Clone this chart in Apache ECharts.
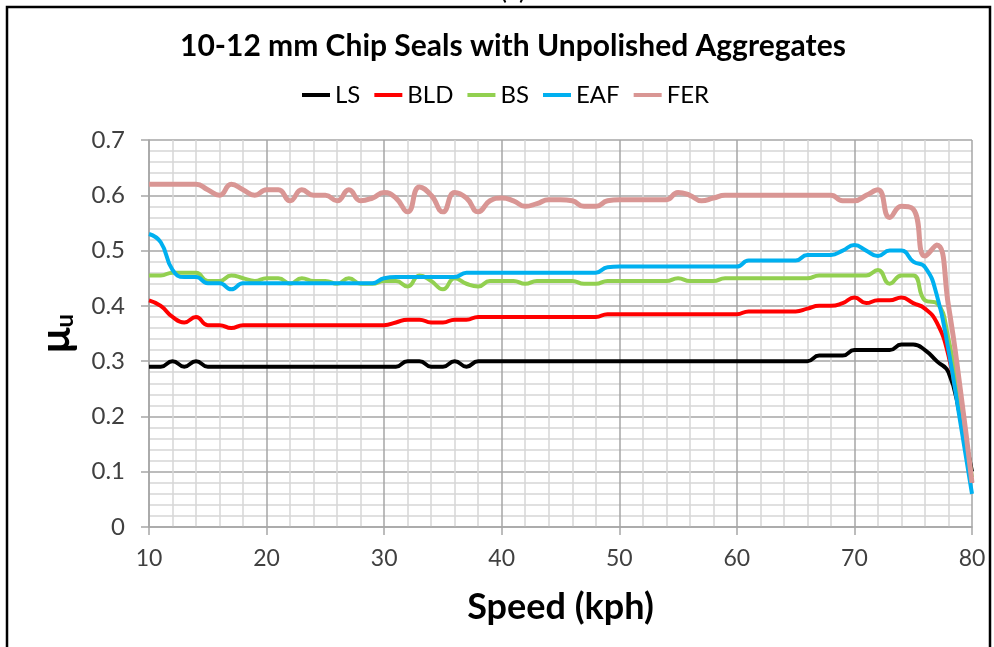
<!DOCTYPE html>
<html>
<head>
<meta charset="utf-8">
<script src="https://cdn.jsdelivr.net/npm/echarts@6/dist/echarts.min.js"></script>
<style>
  html, body { margin: 0; padding: 0; background: #fff; }
  #chart { width: 994px; height: 647px; }
</style>
</head>
<body>
<div id="chart"></div>
<script>
// 速度 10..80 kph，每 1 kph 一个点
var speeds = [];
for (var s = 10; s <= 80; s++) speeds.push(s);

var ls = [0.29, 0.29, 0.30, 0.29, 0.30, 0.29, 0.29, 0.29, 0.29, 0.29,
    0.29, 0.29, 0.29, 0.29, 0.29, 0.29, 0.29, 0.29, 0.29, 0.29,
    0.29, 0.29, 0.30, 0.30, 0.29, 0.29, 0.30, 0.29, 0.30, 0.30,
    0.30, 0.30, 0.30, 0.30, 0.30, 0.30, 0.30, 0.30, 0.30, 0.30,
    0.30, 0.30, 0.30, 0.30, 0.30, 0.30, 0.30, 0.30, 0.30, 0.30,
    0.30, 0.30, 0.30, 0.30, 0.30, 0.30, 0.30, 0.31, 0.31, 0.31,
    0.32, 0.32, 0.32, 0.32, 0.33, 0.33, 0.32, 0.30, 0.28, 0.20,
    0.10];
var bld = [0.41, 0.40, 0.38, 0.37, 0.38, 0.365, 0.365, 0.36, 0.365, 0.365,
    0.365, 0.365, 0.365, 0.365, 0.365, 0.365, 0.365, 0.365, 0.365, 0.365,
    0.365, 0.37, 0.375, 0.375, 0.37, 0.37, 0.375, 0.375, 0.38, 0.38,
    0.38, 0.38, 0.38, 0.38, 0.38, 0.38, 0.38, 0.38, 0.38, 0.385,
    0.385, 0.385, 0.385, 0.385, 0.385, 0.385, 0.385, 0.385, 0.385, 0.385,
    0.385, 0.39, 0.39, 0.39, 0.39, 0.39, 0.395, 0.40, 0.40, 0.405,
    0.415, 0.405, 0.41, 0.41, 0.415, 0.405, 0.395, 0.37, 0.31, 0.20,
    0.08];
var bs = [0.455, 0.455, 0.46, 0.46, 0.46, 0.445, 0.445, 0.455, 0.45, 0.445,
    0.45, 0.45, 0.44, 0.45, 0.445, 0.445, 0.44, 0.45, 0.44, 0.44,
    0.445, 0.445, 0.435, 0.455, 0.445, 0.43, 0.45, 0.44, 0.435, 0.445,
    0.445, 0.445, 0.44, 0.445, 0.445, 0.445, 0.445, 0.44, 0.44, 0.445,
    0.445, 0.445, 0.445, 0.445, 0.445, 0.45, 0.445, 0.445, 0.445, 0.45,
    0.45, 0.45, 0.45, 0.45, 0.45, 0.45, 0.45, 0.455, 0.455, 0.455,
    0.455, 0.455, 0.465, 0.44, 0.455, 0.455, 0.41, 0.405, 0.34, 0.22,
    0.09];
var eaf = [0.53, 0.515, 0.465, 0.452, 0.452, 0.441, 0.441, 0.43, 0.441, 0.441,
    0.441, 0.441, 0.441, 0.441, 0.441, 0.441, 0.441, 0.441, 0.441, 0.441,
    0.45, 0.452, 0.452, 0.452, 0.452, 0.452, 0.452, 0.46, 0.46, 0.46,
    0.46, 0.46, 0.46, 0.46, 0.46, 0.46, 0.46, 0.46, 0.46, 0.47,
    0.471, 0.471, 0.471, 0.471, 0.471, 0.471, 0.471, 0.471, 0.471, 0.471,
    0.471, 0.482, 0.482, 0.482, 0.482, 0.482, 0.492, 0.492, 0.492, 0.50,
    0.51, 0.50, 0.49, 0.50, 0.50, 0.48, 0.47, 0.42, 0.32, 0.19,
    0.06];
var fer = [0.62, 0.62, 0.62, 0.62, 0.62, 0.61, 0.60, 0.62, 0.61, 0.60,
    0.61, 0.61, 0.59, 0.61, 0.60, 0.60, 0.59, 0.61, 0.59, 0.595,
    0.605, 0.595, 0.57, 0.615, 0.60, 0.57, 0.605, 0.595, 0.57, 0.59,
    0.595, 0.59, 0.58, 0.585, 0.592, 0.592, 0.59, 0.58, 0.58, 0.59,
    0.592, 0.592, 0.592, 0.592, 0.592, 0.605, 0.60, 0.59, 0.595, 0.60,
    0.60, 0.60, 0.60, 0.60, 0.60, 0.60, 0.60, 0.60, 0.60, 0.59,
    0.59, 0.60, 0.61, 0.56, 0.58, 0.575, 0.49, 0.51, 0.40, 0.25,
    0.08];

var names = ['LS', 'BLD', 'BS', 'EAF', 'FER'];
var colors = ['#000000', '#ff0000', '#92d050', '#00b0f0', '#d99694'];
var values = [ls, bld, bs, eaf, fer];

var xTicks = [10, 20, 30, 40, 50, 60, 70, 80];
var yTicks = [0, 0.1, 0.2, 0.3, 0.4, 0.5, 0.6, 0.7];

var font = 'Lato, "Open Sans", sans-serif';

function pairs(arr) {
    return speeds.map(function (x, i) { return [x, arr[i]]; });
}

var chart = echarts.init(document.getElementById('chart'));

var series = names.map(function (n, i) {
    return {
        name: n,
        type: 'line',
        smooth: true,
        showSymbol: false,
        data: pairs(values[i]),
        lineStyle: { color: colors[i], width: i === 4 ? 5 : 4 },
        itemStyle: { color: colors[i] }
    };
});

var option = {
    backgroundColor: '#fff',
    animation: false,
    title: {
        text: '10-12 mm Chip Seals with Unpolished Aggregates',
        left: 175,
        top: 26,
        textStyle: { fontFamily: font, fontSize: 30, fontWeight: 'bold', color: '#000' }
    },
    legend: {
        data: names,
        left: 297,
        top: 78,
        icon: 'rect',
        itemWidth: 28,
        itemHeight: 4,
        itemGap: 14,
        textStyle: { fontFamily: font, fontSize: 24, color: '#000' }
    },
    grid: { left: 149, right: 22, top: 140, bottom: 120 },
    xAxis: {
        type: 'value',
        min: xTicks[0],
        max: xTicks[xTicks.length - 1],
        interval: 10,
        name: 'Speed (kph)',
        nameLocation: 'middle',
        nameGap: 62,
        nameTextStyle: { fontFamily: font, fontSize: 36, fontWeight: 'bold', color: '#000' },
        axisLine: { show: true, lineStyle: { color: '#a6a6a6', width: 1.5 } },
        axisTick: { show: true, length: 8, lineStyle: { color: '#a6a6a6', width: 1.5 } },
        axisLabel: { fontFamily: font, fontSize: 23, color: '#404040', margin: 20 },
        splitLine: { show: true, lineStyle: { color: '#a6a6a6', width: 1.5 } },
        minorTick: { show: false, splitNumber: 5 },
        minorSplitLine: { show: true, lineStyle: { color: '#d6d6d6', width: 1.5 } }
    },
    yAxis: {
        type: 'value',
        min: yTicks[0],
        max: yTicks[yTicks.length - 1],
        interval: 0.1,
        name: '{m|μ}{u|u}',
        nameLocation: 'middle',
        nameRotate: 90,
        nameGap: 72,
        nameTextStyle: {
            fontFamily: font,
            color: '#000',
            rich: {
                m: { fontFamily: font, fontSize: 42, fontWeight: 'bold', color: '#000' },
                u: { fontFamily: font, fontSize: 24, fontWeight: 'bold', color: '#000', verticalAlign: 'bottom', padding: [14, 0, 0, 0] }
            }
        },
        axisLine: { show: true, lineStyle: { color: '#a6a6a6', width: 1.5 } },
        axisTick: { show: true, length: 8, lineStyle: { color: '#a6a6a6', width: 1.5 } },
        axisLabel: {
            fontFamily: font, fontSize: 24, color: '#404040', margin: 24,
            formatter: function (v) { return String(Math.round(v * 10) / 10); }
        },
        splitLine: { show: true, lineStyle: { color: '#a6a6a6', width: 1.5 } },
        minorTick: { show: false, splitNumber: 5 },
        minorSplitLine: { show: true, lineStyle: { color: '#d6d6d6', width: 1.5 } }
    },
    graphic: [
        {
            type: 'rect',
            shape: { x: 7, y: 7, width: 983, height: 680 },
            style: { fill: 'none', stroke: '#000', lineWidth: 2.5 },
            silent: true
        },
        {
            type: 'text',
            left: 500,
            top: -22,
            style: { text: '(a)', fontFamily: font, fontSize: 26, fill: '#000' },
            silent: true
        }
    ],
    series: series
};

chart.setOption(option);
</script>
</body>
</html>
